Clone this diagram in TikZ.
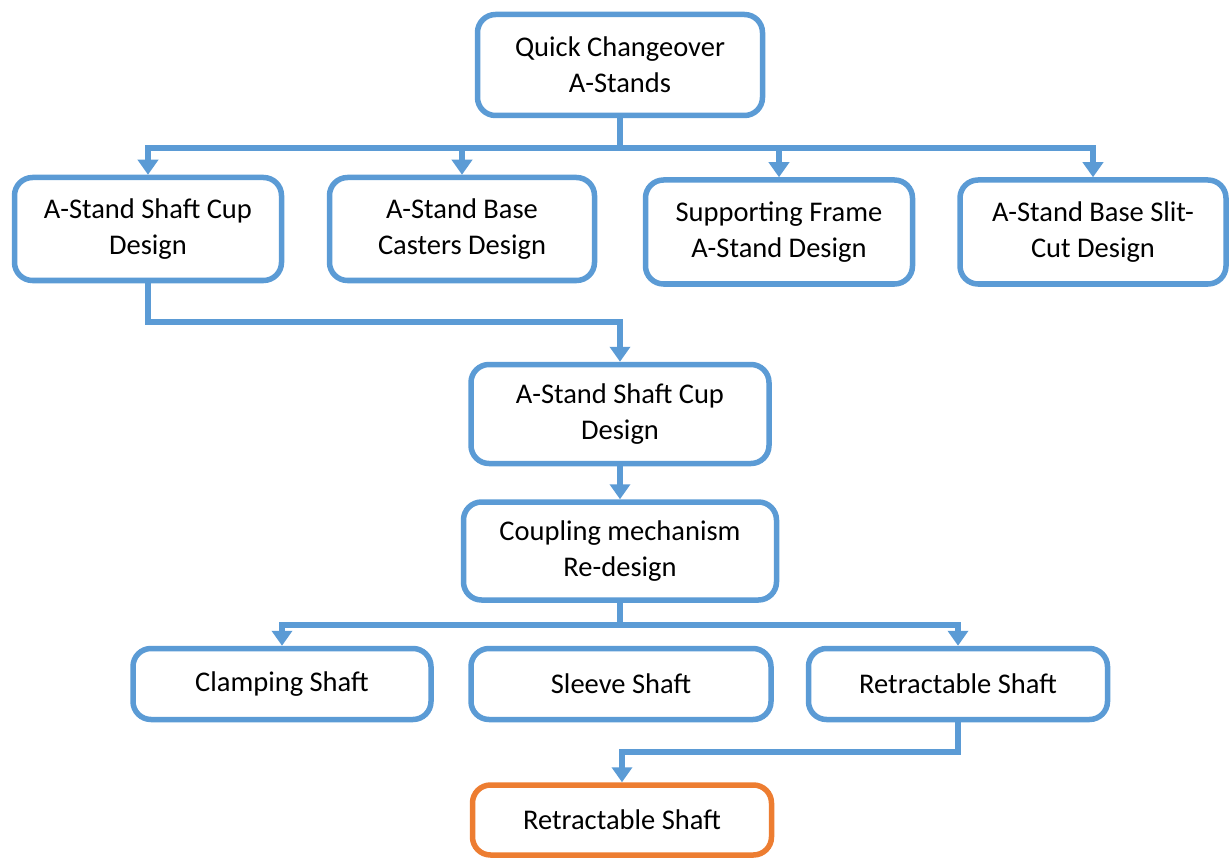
\documentclass[tikz,border=0pt]{standalone}
\usepackage{fontspec}
\setmainfont{Carlito}
\usetikzlibrary{arrows.meta}
\definecolor{bl}{RGB}{91,155,213}
\definecolor{orng}{RGB}{237,125,49}
\begin{document}
\begin{tikzpicture}[x=1pt,y=-1pt,
  box/.style={draw=bl, line width=5.5pt, rounded corners=18pt, fill=white, align=center,
    font=\fontsize{28.5}{36}\selectfont, inner sep=0pt},
  con/.style={draw=bl, line width=5.5pt},
  arr/.style={con, -{Triangle[width=20pt,length=15pt]}}]
\useasboundingbox (0,0) rectangle (1232,861);
\node[box, minimum width=285pt, minimum height=101pt] (top) at (620,65) {Quick Changeover\\A-Stands};
\node[box, minimum width=267pt, minimum height=103pt] (b1) at (148,229) {A-Stand Shaft Cup\\Design};
\node[box, minimum width=265pt, minimum height=103pt] (b2) at (462,229) {A-Stand Base\\Casters Design};
\node[box, minimum width=267pt, minimum height=104pt] (b3) at (779,232) {Supporting Frame\\A-Stand Design};
\node[box, minimum width=266pt, minimum height=104pt] (b4) at (1093,232) {A-Stand Base Slit-\\Cut Design};
\node[box, minimum width=298pt, minimum height=99pt] (b5) at (620,414) {A-Stand Shaft Cup\\Design};
\node[box, minimum width=313pt, minimum height=98pt] (b6) at (620,551) {Coupling mechanism\\Re-design};
\node[box, minimum width=298pt, minimum height=71pt] (c1) at (282,684) {Clamping Shaft};
\node[box, minimum width=300pt, minimum height=71pt] (c2) at (621,684) {Sleeve Shaft};
\node[box, minimum width=299pt, minimum height=71pt] (c3) at (958,684) {Retractable Shaft};
\node[box, draw=orng, minimum width=299pt, minimum height=70pt] (f) at (622,820) {Retractable Shaft};
\coordinate (h1) at (620,148);
\coordinate (h2) at (148,322);
\coordinate (h3) at (620,625);
\coordinate (h4) at (958,752);
\draw[arr] (top.south) -- (h1) -| (b1.north);
\draw[arr] (top.south) -- (h1) -| (b2.north);
\draw[arr] (top.south) -- (h1) -| (b3.north);
\draw[arr] (top.south) -- (h1) -| (b4.north);
\draw[arr] (b1.south) -- (h2) -| (b5.north);
\draw[arr] (b5.south) -- (b6.north);
\draw[arr] (b6.south) -- (h3) -| (c1.north);
\draw[arr] (b6.south) -- (h3) -| (c3.north);
\draw[arr] (c3.south) -- (h4) -| (f.north);
\end{tikzpicture}
\end{document}
